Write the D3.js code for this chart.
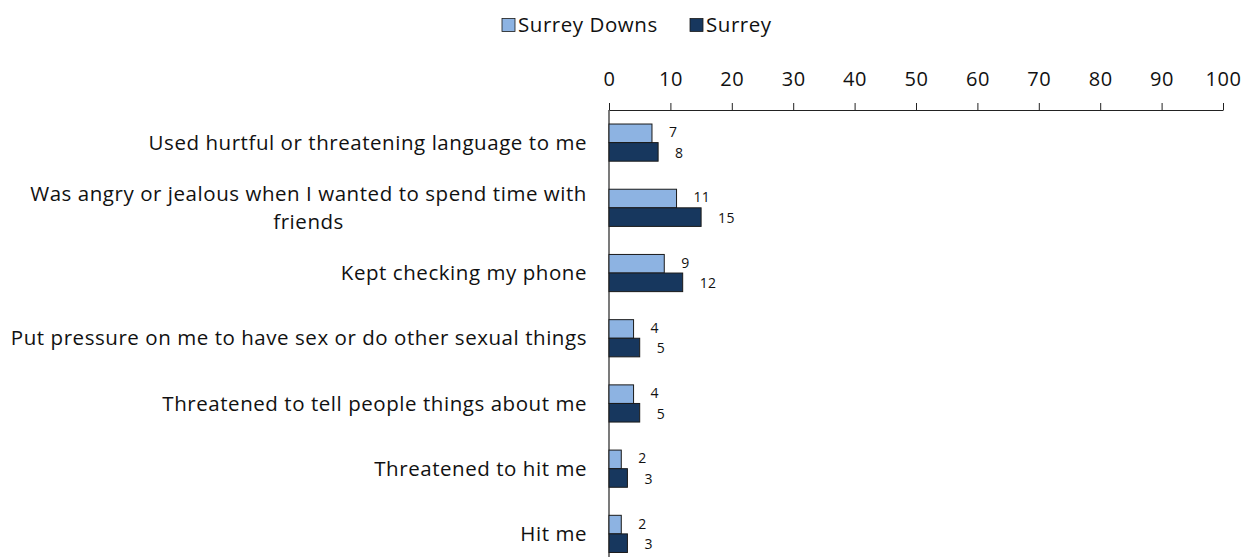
<!DOCTYPE html>
<html>
<head>
<meta charset="utf-8">
<script src="https://cdn.jsdelivr.net/npm/d3@7"></script>
<style>
  body { margin: 0; background: #fff; }
  svg text { font-family: "Open Sans", Lato, sans-serif; fill: #111; }
</style>
</head>
<body>
<svg id="chart"></svg>
<script>
const categories = [
  "Used hurtful or threatening language to me",
  "Was angry or jealous when I wanted to spend time with|friends",
  "Kept checking my phone",
  "Put pressure on me to have sex or do other sexual things",
  "Threatened to tell people things about me",
  "Threatened to hit me",
  "Hit me"
];
const seriesNames = ["Surrey Downs", "Surrey"];
const surreyDowns = [7, 11, 9, 4, 4, 2, 2];
const surrey = [8, 15, 12, 5, 5, 3, 3];
const xTicks = [0, 10, 20, 30, 40, 50, 60, 70, 80, 90, 100];
const colors = ["#8db3e2", "#17375e"];

const width = 1247, height = 557;
const labelFont = 20.5;
const labelSpacing = 0.55;
const svg = d3.select("#chart").attr("width", width).attr("height", height);

const x = d3.scaleLinear().domain([0, 100]).range([609, 1223]);
const y = d3.scaleBand().domain(categories).range([110, 566.5]).paddingInner(0.43).paddingOuter(0.215);
const sub = d3.scaleBand().domain(seriesNames).range([0, y.bandwidth()]);

// axis on top
const axis = svg.append("g")
  .attr("transform", `translate(0,110)`)
  .call(d3.axisTop(x).tickValues(xTicks).tickSize(7).tickPadding(17).tickSizeOuter(0));
axis.select(".domain").attr("stroke", "#222").attr("stroke-width", 1.2);
axis.selectAll(".tick line").attr("stroke", "#222");
axis.selectAll(".tick text")
  .attr("font-size", labelFont - 0.5)
  .attr("font-family", "'Open Sans', Lato, sans-serif")
  .attr("letter-spacing", labelSpacing)
  .attr("fill", "#111");

// vertical category axis line
svg.append("line")
  .attr("x1", x(0)).attr("x2", x(0))
  .attr("y1", 110).attr("y2", height)
  .attr("stroke", "#222").attr("stroke-width", 1.2);

const data = categories.map((c, i) => ({ cat: c, values: [surreyDowns[i], surrey[i]] }));

const groups = svg.selectAll(".grp").data(data).enter().append("g")
  .attr("class", "grp")
  .attr("transform", d => `translate(0,${y(d.cat)})`);

groups.selectAll("rect").data(d => d.values.map((v, j) => ({ v, s: seriesNames[j], j })))
  .enter().append("rect")
  .attr("x", x(0))
  .attr("y", d => sub(d.s))
  .attr("width", d => x(d.v) - x(0))
  .attr("height", sub.bandwidth())
  .attr("fill", d => colors[d.j])
  .attr("stroke", "#1a1a1a")
  .attr("stroke-width", 1);

groups.selectAll(".val").data(d => d.values.map((v, j) => ({ v, s: seriesNames[j], j })))
  .enter().append("text")
  .attr("class", "val")
  .attr("x", d => x(d.v) + 17)
  .attr("y", d => sub(d.s) + sub.bandwidth() / 2 + (d.j === 0 ? -1 : 1))
  .attr("dy", "0.35em")
  .attr("font-size", 14)
  .attr("letter-spacing", 0.3)
  .text(d => d.v);

// category labels, wrapped lines centred under the first line
groups.each(function(d) {
  const lines = d.cat.split("|");
  const g = d3.select(this);
  const cy = y.bandwidth() / 2;
  const lh = 29;
  const t = g.append("text")
    .attr("font-size", labelFont)
    .attr("letter-spacing", labelSpacing)
    .attr("text-anchor", "middle");
  const tmp = g.append("text").attr("font-size", labelFont)
    .attr("letter-spacing", labelSpacing).text(lines[0]);
  const w = tmp.node().getComputedTextLength();
  tmp.remove();
  const cx = 587 - w / 2;
  lines.forEach((ln, k) => {
    t.append("tspan")
      .attr("x", cx)
      .attr("y", cy + (k - (lines.length - 1) / 2) * lh)
      .attr("dy", "0.35em")
      .text(ln);
  });
});

// legend
const legend = svg.append("g");
const legItems = [
  { name: seriesNames[0], color: colors[0], x: 502 },
  { name: seriesNames[1], color: colors[1], x: 690 }
];
legItems.forEach(it => {
  legend.append("rect")
    .attr("x", it.x).attr("y", 18.5).attr("width", 13).attr("height", 13)
    .attr("fill", it.color).attr("stroke", "#1a1a1a").attr("stroke-width", 0.8);
  legend.append("text")
    .attr("x", it.x + 16).attr("y", 25).attr("dy", "0.35em")
    .attr("font-size", labelFont)
    .attr("letter-spacing", labelSpacing)
    .text(it.name);
});
</script>
</body>
</html>
